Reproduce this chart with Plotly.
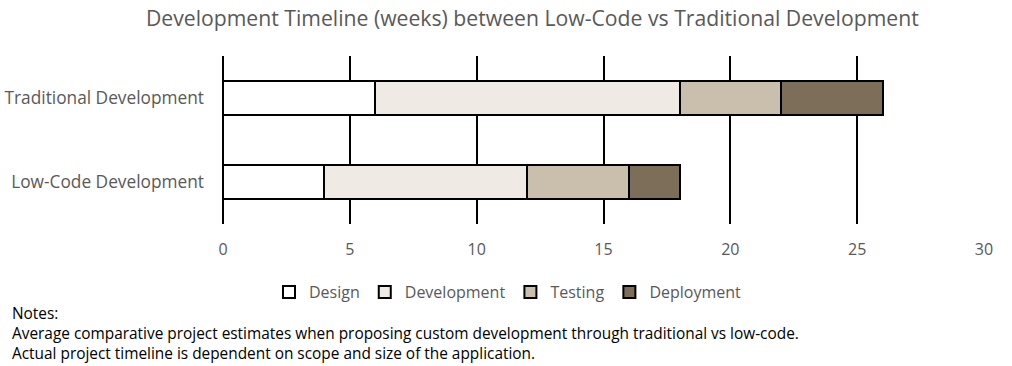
import plotly.graph_objects as go

categories = ["Low-Code Development", "Traditional Development"]
phases = ["Design", "Development", "Testing", "Deployment"]
design = [4, 6]
development = [8, 12]
testing = [4, 4]
deployment = [2, 4]
x_ticks = [0, 5, 10, 15, 20, 25, 30]

colors = ["#FFFFFF", "#EFEBE4", "#C9BFAC", "#7D6E59"]
series = [design, development, testing, deployment]

FONT = "Open Sans"
GRAY = "#595959"

fig = go.Figure()
for name, vals, col in zip(phases, series, colors):
    fig.add_trace(go.Bar(
        y=categories, x=vals, name=name, orientation="h",
        marker=dict(color=col, line=dict(color="black", width=2)),
    ))

fig.update_layout(
    barmode="stack",
    bargap=0.595,
    width=1012, height=366,
    margin=dict(l=223, r=28, t=56, b=142, autoexpand=False),
    plot_bgcolor="white", paper_bgcolor="white",
    font=dict(family=FONT, color=GRAY, size=16),
    title=dict(
        text="Development Timeline (weeks) between Low-Code vs Traditional Development",
        x=0.526, xref="container", xanchor="center",
        y=1 - 19 / 366, yref="container", yanchor="middle",
        font=dict(family=FONT, size=21.2, color=GRAY),
    ),
    xaxis=dict(
        range=[0, 30], tickvals=x_ticks, showgrid=True, gridcolor="black", gridwidth=2,
        zeroline=True, zerolinecolor="black", zerolinewidth=2,
        showline=False, ticks="", ticklabelstandoff=14, automargin=False,
        tickfont=dict(family=FONT, size=16, color=GRAY),
        fixedrange=True,
    ),
    yaxis=dict(
        categoryorder="array", categoryarray=categories,
        showgrid=False, zeroline=False, showline=False, ticks="",
        ticklabelstandoff=18, automargin=False,
        tickfont=dict(family=FONT, size=17.3, color=GRAY),
    ),
    legend=dict(
        orientation="h", xref="container", x=508 / 1012, xanchor="center",
        yref="container", y=1 - 292 / 366, yanchor="middle",
        font=dict(family=FONT, size=16, color=GRAY),
        traceorder="normal", itemwidth=30,
    ),
    showlegend=True,
)

fig.add_annotation(
    text="Notes:<br>Average comparative project estimates when proposing custom development through traditional vs low-code.<br>Actual project timeline is dependent on scope and size of the application.",
    xref="paper", yref="paper",
    x=(10 - 223) / 761, y=(224 - 301) / 168,
    xanchor="left", yanchor="top", align="left", showarrow=False,
    font=dict(family=FONT, size=15.4, color="black"),
)

fig.write_html("out.html", config={"displayModeBar": False},
               post_script="document.body.style.margin='0';")
